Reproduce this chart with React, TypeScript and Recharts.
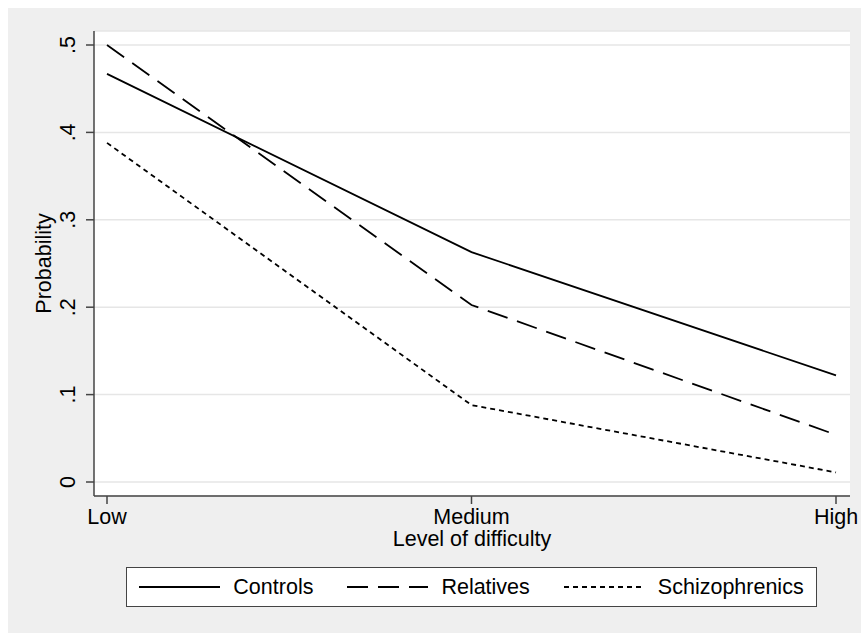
import { CartesianGrid, Line, LineChart, XAxis, YAxis } from "recharts"

const levels = ["Low", "Medium", "High"]
const controls = [0.467, 0.263, 0.122]
const relatives = [0.5, 0.2025, 0.054]
const schizophrenics = [0.388, 0.088, 0.011]
const yTicks = [0, 0.1, 0.2, 0.3, 0.4, 0.5]

const seriesNames = ["Controls", "Relatives", "Schizophrenics"]
const dashes = ["", "21 10", "5 4"]

const FONT = "'Liberation Sans', Arial, Helvetica, sans-serif"
const AXIS = "#444"

const chartData = levels.map((level, i) => ({
  level,
  controls: controls[i],
  relatives: relatives[i],
  schizophrenics: schizophrenics[i],
}))

// stata-style labels: ".5" instead of "0.5"
const fmtProb = (v: number) => (v === 0 ? "0" : v.toFixed(1).replace(/^0/, ""))

function YTick(props: any) {
  const { x, y, payload } = props
  const bx = x - 9
  return (
    <text
      x={bx}
      y={y}
      transform={`rotate(-90, ${bx}, ${y})`}
      textAnchor="middle"
      fontSize={21.5}
      fontFamily={FONT}
      fill="#000"
    >
      {fmtProb(payload.value)}
    </text>
  )
}

function XTick(props: any) {
  const { x, y, payload } = props
  return (
    <text x={x} y={y + 18} textAnchor="middle" fontSize={21.5} fontFamily={FONT} fill="#000">
      {payload.value}
    </text>
  )
}

function LegendBox() {
  return (
    <div
      style={{
        position: "absolute",
        left: 118,
        top: 559,
        width: 691,
        height: 40,
        boxSizing: "border-box",
        border: `1.5px solid ${AXIS}`,
        background: "#fff",
        display: "flex",
        alignItems: "center",
        justifyContent: "center",
        gap: 34,
        fontFamily: FONT,
        fontSize: 21.5,
        color: "#000",
      }}
    >
      {seriesNames.map((name, i) => (
        <div key={name} style={{ display: "flex", alignItems: "center", gap: 13 }}>
          <svg width={81} height={10}>
            <line x1={0} y1={5} x2={81} y2={5} stroke="#000" strokeWidth={1.8} strokeDasharray={dashes[i] || undefined} />
          </svg>
          <span>{name}</span>
        </div>
      ))}
    </div>
  )
}

export default function App() {
  return (
    <div style={{ position: "relative", width: 861, height: 633, background: "#fff", overflow: "hidden" }}>
      <style>{"body{margin:0}"}</style>
      <div style={{ position: "absolute", left: 8, top: 8, width: 853, height: 625, background: "#efefef" }}>
        <LineChart width={853} height={625} data={chartData} margin={{ top: 23, right: 11, left: 0, bottom: 77 }}>
          <CartesianGrid vertical={false} stroke="#e6e6e6" strokeWidth={1.5} fill="#fff" fillOpacity={1} />
          <XAxis
            dataKey="level"
            padding={{ left: 13, right: 14 }}
            height={60}
            stroke={AXIS}
            strokeWidth={1.5}
            tickSize={8}
            tick={<XTick />}
            interval={0}
            label={{
              content: (p: any) => {
                const vb = p.viewBox
                return (
                  <text x={vb.x + vb.width / 2} y={vb.y + 50} textAnchor="middle" fontSize={21.5} fontFamily={FONT} fill="#000">
                    Level of difficulty
                  </text>
                )
              },
            }}
          />
          <YAxis
            domain={[0, 0.5]}
            ticks={yTicks}
            padding={{ top: 14, bottom: 14 }}
            width={86}
            stroke={AXIS}
            strokeWidth={1.5}
            tickSize={8}
            tick={<YTick />}
            label={{
              content: (p: any) => {
                const vb = p.viewBox
                const cx = 43
                const cy = vb.y + vb.height / 2
                return (
                  <text
                    x={cx}
                    y={cy}
                    transform={`rotate(-90, ${cx}, ${cy})`}
                    textAnchor="middle"
                    fontSize={21.5}
                    fontFamily={FONT}
                    fill="#000"
                  >
                    Probability
                  </text>
                )
              },
            }}
          />
          <Line dataKey="controls" stroke="#000" strokeWidth={1.8} dot={false} isAnimationActive={false} />
          <Line dataKey="relatives" stroke="#000" strokeWidth={1.8} strokeDasharray={dashes[1]} dot={false} isAnimationActive={false} />
          <Line dataKey="schizophrenics" stroke="#000" strokeWidth={1.8} strokeDasharray={dashes[2]} dot={false} isAnimationActive={false} />
        </LineChart>
        <LegendBox />
      </div>
    </div>
  )
}
